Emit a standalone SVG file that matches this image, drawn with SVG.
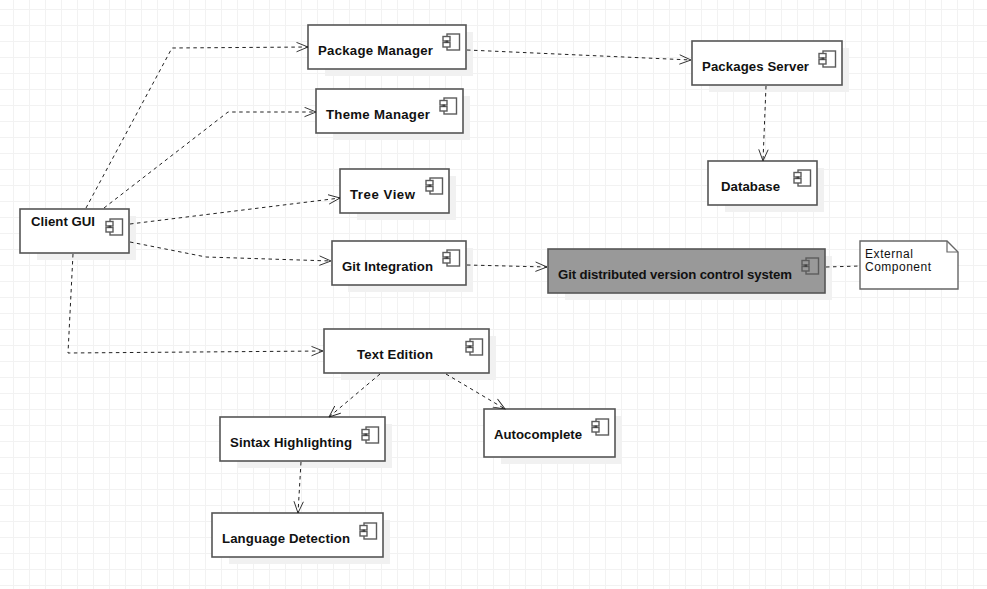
<svg xmlns="http://www.w3.org/2000/svg" width="987" height="589" viewBox="0 0 987 589">
<defs>
<pattern id="grid" width="16" height="16" patternUnits="userSpaceOnUse" patternTransform="translate(13 9)"><path d="M0.5 0V16M0 0.5H16" fill="none" stroke="#f2f2f2" stroke-width="1"/></pattern>
<marker id="open" markerUnits="userSpaceOnUse" markerWidth="14" markerHeight="12" refX="12" refY="5.5" orient="auto"><path d="M0.5 0.8L12 5.5L0.5 10.2" fill="none" stroke="#222" stroke-width="0.9"/></marker>
<g id="ci"><rect x="4" y="0" width="12.5" height="16" fill="none" stroke="#5c5c5c" stroke-width="1.4"/><rect x="0" y="2.5" width="7" height="4.5" stroke="#5c5c5c" stroke-width="1.4"/><rect x="0" y="8.5" width="7" height="4.5" stroke="#5c5c5c" stroke-width="1.4"/><rect x="2.5" y="6.5" width="2.5" height="2.5" fill="#444"/></g>
</defs>
<style>
use{fill:#fff}
#git-dvcs use{fill:#999}
.b{fill:#fff;stroke:#555;stroke-width:1.6}
.s{fill:#f1f1f1}
.t{font:bold 13.2px "Liberation Sans",Arial,sans-serif;fill:#111}
.n{font:12px "Liberation Sans",Arial,sans-serif;fill:#111}
.c{fill:none;stroke:#222;stroke-width:1;stroke-dasharray:3.5 3.5;marker-end:url(#open)}
.d{fill:none;stroke:#222;stroke-width:1;stroke-dasharray:3.5 3.5}
</style>
<rect width="987" height="589" fill="#fff"/>
<rect width="987" height="589" fill="url(#grid)"/>
<g id="client-gui"><rect class="s" x="37" y="216" width="99" height="44"/><rect class="b" x="20" y="209" width="109" height="44"/><text class="t" x="31" y="226" textLength="64">Client GUI</text><use href="#ci" x="106" y="219"/></g>
<g id="package-manager"><rect class="s" x="325" y="32" width="148" height="44"/><rect class="b" x="308" y="25" width="158" height="44"/><text class="t" x="318" y="55" textLength="115">Package Manager</text><use href="#ci" x="443" y="34"/></g>
<g id="theme-manager"><rect class="s" x="333" y="96" width="137" height="44"/><rect class="b" x="316" y="89" width="147" height="44"/><text class="t" x="326" y="119" textLength="104">Theme Manager</text><use href="#ci" x="440" y="98"/></g>
<g id="tree-view"><rect class="s" x="357" y="176" width="99" height="44"/><rect class="b" x="340" y="169" width="109" height="44"/><text class="t" x="350" y="199" textLength="65">Tree View</text><use href="#ci" x="426" y="178"/></g>
<g id="git-integration"><rect class="s" x="348" y="248" width="125" height="44"/><rect class="b" x="332" y="241" width="134" height="44"/><text class="t" x="342" y="271" textLength="91">Git Integration</text><use href="#ci" x="443" y="250"/></g>
<g id="packages-server"><rect class="s" x="709" y="48" width="140" height="44"/><rect class="b" x="692" y="41" width="150" height="44"/><text class="t" x="702" y="71" textLength="107">Packages Server</text><use href="#ci" x="819" y="51"/></g>
<g id="database"><rect class="s" x="725" y="168" width="99" height="44"/><rect class="b" x="708" y="161" width="109" height="44"/><text class="t" x="721" y="191" textLength="59">Database</text><use href="#ci" x="794" y="170"/></g>
<g id="git-dvcs"><rect class="s" x="565" y="256" width="267" height="44"/><rect x="548" y="249" width="277" height="44" fill="#999" stroke="#555" stroke-width="1.6"/><text class="t" x="558" y="279" textLength="234">Git distributed version control system</text><use href="#ci" x="802" y="258"/></g>
<g id="external-component"><path d="M860 241H947L958 252V289H860Z" fill="#fff" stroke="#666" stroke-width="1.4"/><path d="M947 241V252H958" fill="none" stroke="#666" stroke-width="1.2"/><text class="n" x="865" y="258" textLength="48">External</text><text class="n" x="865" y="271" textLength="66">Component</text></g>
<g id="text-edition"><rect class="s" x="341" y="336" width="155" height="44"/><rect class="b" x="324" y="329" width="165" height="44"/><text class="t" x="357" y="359" textLength="76">Text Edition</text><use href="#ci" x="466" y="339"/></g>
<g id="sintax-highlighting"><rect class="s" x="237" y="424" width="155" height="44"/><rect class="b" x="220" y="417" width="165" height="44"/><text class="t" x="230" y="447" textLength="122">Sintax Highlighting</text><use href="#ci" x="362" y="427"/></g>
<g id="autocomplete"><rect class="s" x="501" y="416" width="121" height="48"/><rect class="b" x="484" y="409" width="131" height="48"/><text class="t" x="494" y="439" textLength="88">Autocomplete</text><use href="#ci" x="592" y="419"/></g>
<g id="language-detection"><rect class="s" x="229" y="520" width="161" height="44"/><rect class="b" x="212" y="513" width="171" height="44"/><text class="t" x="222" y="543" textLength="128">Language Detection</text><use href="#ci" x="360" y="523"/></g>
<g id="connectors">
<path class="c" d="M86 208L172 48L308 47"/>
<path class="c" d="M104 208L228 112L316 112"/>
<path class="c" d="M130 224L340 198"/>
<path class="c" d="M130 242L206 257L331 261"/>
<path class="c" d="M73 254L68 353L323 351"/>
<path class="c" d="M467 50L691 60"/>
<path class="c" d="M766 86L763 161"/>
<path class="c" d="M467 265L547 267"/>
<path class="d" d="M826 267L860 266"/>
<path class="c" d="M380 374L329 417"/>
<path class="c" d="M446 374L505 409"/>
<path class="c" d="M301 462L298 513"/>
</g>
</svg>
